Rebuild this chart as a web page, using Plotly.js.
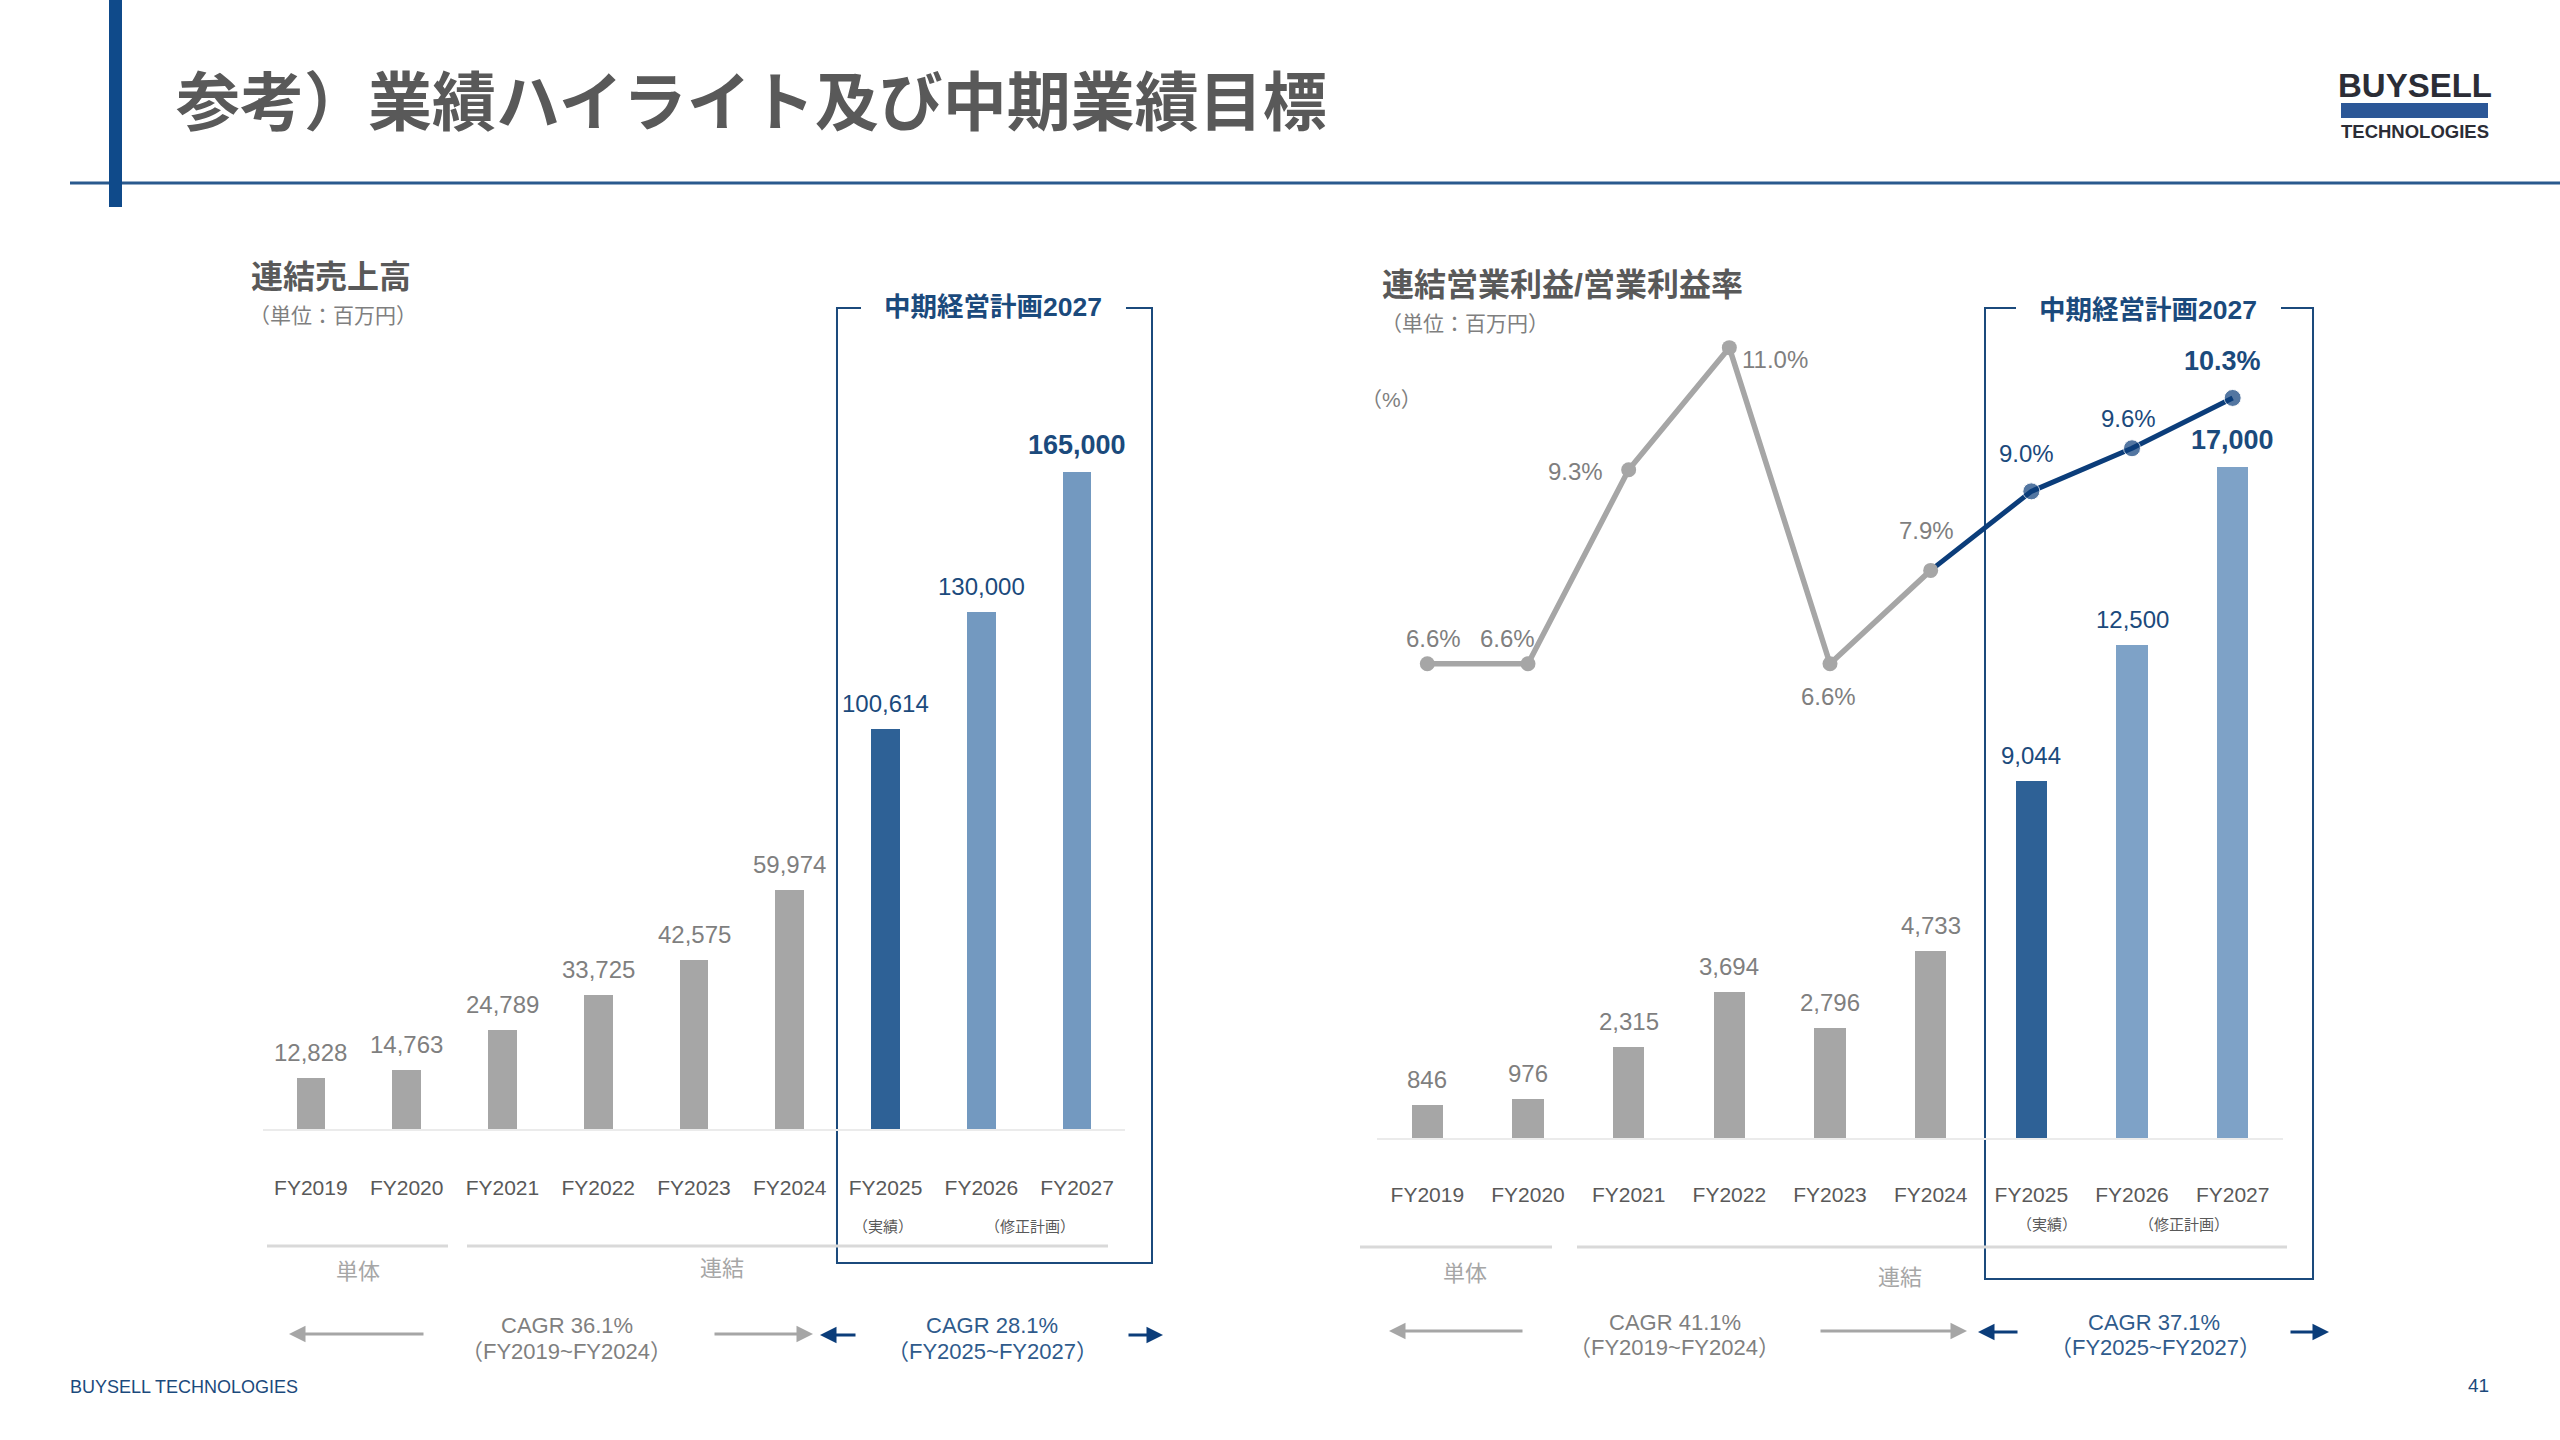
<!DOCTYPE html>
<html>
<head>
<meta charset="utf-8">
<script src="https://cdn.plot.ly/plotly-3.0.1.min.js"></script>
<style>
  html, body { margin: 0; padding: 0; background: #ffffff; }
  #chart { width: 2560px; height: 1440px; }
</style>
</head>
<body>
<div id="chart"></div>
<script>
// ---------------- DATA ----------------
const categories = ['FY2019', 'FY2020', 'FY2021', 'FY2022', 'FY2023', 'FY2024', 'FY2025', 'FY2026', 'FY2027'];
const salesValues = [12828, 14763, 24789, 33725, 42575, 59974, 100614, 130000, 165000];
const opIncomeValues = [846, 976, 2315, 3694, 2796, 4733, 9044, 12500, 17000];
const opMarginValues = [6.6, 6.6, 9.3, 11.0, 6.6, 7.9, 9.0, 9.6, 10.3];
const periodTypes = ['past', 'past', 'past', 'past', 'past', 'past', 'actual', 'plan', 'plan'];

const pageTitle = '参考）業績ハイライト及び中期業績目標';
const salesTitle = '連結売上高';
const opTitle = '連結営業利益/営業利益率';
const unitText = '（単位：百万円）';
const pctUnitText = '（%）';
const planBoxTitle = '中期経営計画2027';
const actualNote = '（実績）';
const planNote = '（修正計画）';
const standaloneLabel = '単体';
const consolidatedLabel = '連結';
const salesCagrPast = ['CAGR 36.1%', '（FY2019~FY2024）'];
const salesCagrPlan = ['CAGR 28.1%', '（FY2025~FY2027）'];
const opCagrPast = ['CAGR 41.1%', '（FY2019~FY2024）'];
const opCagrPlan = ['CAGR 37.1%', '（FY2025~FY2027）'];
const footerText = 'BUYSELL TECHNOLOGIES';
const pageNumber = '41';

// ---------------- STYLE ----------------
const W = 2560, H = 1440;
const P = x => x / W;
const Q = y => 1 - y / H;
const FONT = 'Liberation Sans, Arial, Noto Sans CJK JP, sans-serif';
const NAVY = '#1B4A7C';
const GRAY_BAR = '#A6A6A6';
const GRAY_TXT = '#7F7F7F';
const DARK_TXT = '#595959';
const last = categories.length - 1;

function barColor(t, light) {
  if (t === 'past') return GRAY_BAR;
  if (t === 'actual') return '#2E6196';
  return light;
}

const traces = [];
traces.push({
  type: 'bar', x: categories, y: salesValues, xaxis: 'x', yaxis: 'y',
  width: 0.30,
  marker: { color: periodTypes.map(t => barColor(t, '#7399C0')) },
  hoverinfo: 'skip'
});
traces.push({
  type: 'bar', x: categories, y: opIncomeValues, xaxis: 'x2', yaxis: 'y2',
  width: 0.31,
  marker: { color: periodTypes.map(t => barColor(t, '#7EA2C7')) },
  hoverinfo: 'skip'
});
// blue (plan) segment of the margin line, starting from FY2024
const pastIdx = periodTypes.map((t, i) => t === 'past' ? i : -1).filter(i => i >= 0);
const lastPast = pastIdx[pastIdx.length - 1];
traces.push({
  type: 'scatter', mode: 'lines+markers',
  x: categories.slice(lastPast), y: opMarginValues.slice(lastPast),
  xaxis: 'x2', yaxis: 'y3',
  line: { color: '#0B3D7A', width: 5 },
  marker: { color: '#0B3D7A', size: categories.slice(lastPast).map((c, i) => i === 0 ? 0 : 17) },
  cliponaxis: false, hoverinfo: 'skip'
});
traces.push({
  type: 'scatter', mode: 'lines+markers',
  x: categories.slice(0, lastPast + 1), y: opMarginValues.slice(0, lastPast + 1),
  xaxis: 'x2', yaxis: 'y3',
  line: { color: '#A6A6A6', width: 5.5 },
  marker: { color: '#A6A6A6', size: 15 },
  cliponaxis: false, hoverinfo: 'skip'
});

const annotations = [];
function txt(x, y, text, size, color, opts) {
  annotations.push(Object.assign({
    xref: 'paper', yref: 'paper', x: P(x), y: Q(y), text: text, showarrow: false,
    xanchor: 'center', yanchor: 'middle',
    font: { family: FONT, size: size, color: color }
  }, opts || {}));
}
function arrow(x0, x1, y, color) {
  annotations.push({
    xref: 'paper', yref: 'paper', x: P(x1), y: Q(y), ax: x0 - x1, ay: 0,
    axref: 'pixel', ayref: 'pixel', text: '', showarrow: true,
    arrowhead: 2, arrowsize: 1.1, arrowwidth: 3, arrowcolor: color, standoff: 0
  });
}

// bar value labels
function barLabels(values, xa, ya) {
  values.forEach((v, i) => {
    const t = periodTypes[i];
    const bold = (i === last);
    annotations.push({
      xref: xa, yref: ya, x: categories[i], y: v,
      text: bold ? '<b>' + v.toLocaleString('en-US') + '</b>' : v.toLocaleString('en-US'),
      showarrow: false, xanchor: 'center', yanchor: 'bottom', yshift: 10,
      font: { family: FONT, size: bold ? 27 : 24, color: t === 'past' ? GRAY_TXT : NAVY }
    });
  });
}
barLabels(salesValues, 'x', 'y');
barLabels(opIncomeValues, 'x2', 'y2');

// margin labels (placement per point)
const marginLabelPlacement = [
  [6, 25], [-21, 25], [-53, -2], [46, -12], [-2, -33], [-4, 40], [-5, 38], [-4, 30], [-10, 37]
];
opMarginValues.forEach((v, i) => {
  const t = periodTypes[i];
  const bold = (i === last);
  const s = v.toFixed(1) + '%';
  annotations.push({
    xref: 'x2', yref: 'y3', x: categories[i], y: v,
    text: bold ? '<b>' + s + '</b>' : s,
    showarrow: false, xanchor: 'center', yanchor: 'middle',
    xshift: marginLabelPlacement[i][0], yshift: marginLabelPlacement[i][1],
    font: { family: FONT, size: bold ? 27 : 24, color: t === 'past' ? GRAY_TXT : NAVY }
  });
});

// header
txt(174, 103, '<b>' + pageTitle + '</b>', 64, DARK_TXT, { xanchor: 'left' });
// logo
txt(2414.5, 85, '<b>BUYSELL</b>', 33, '#2B2D36');
txt(2414.5, 131, '<b>TECHNOLOGIES</b>', 18.5, '#2B2D36');

// chart titles
txt(249, 277, '<b>' + salesTitle + '</b>', 32, DARK_TXT, { xanchor: 'left' });
txt(247, 315, unitText, 21, GRAY_TXT, { xanchor: 'left' });
txt(1380, 285, '<b>' + opTitle + '</b>', 32, DARK_TXT, { xanchor: 'left' });
txt(1379, 323, unitText, 21, GRAY_TXT, { xanchor: 'left' });
txt(1391, 399, pctUnitText, 21, GRAY_TXT);

// plan box titles
txt(993, 307, '<b>' + planBoxTitle + '</b>', 26.5, NAVY);
txt(2148, 310, '<b>' + planBoxTitle + '</b>', 26.5, NAVY);

// notes under axis
txt(883, 1226, actualNote, 15, DARK_TXT);
txt(1030, 1226, planNote, 15, DARK_TXT);
txt(2047, 1224, actualNote, 15, DARK_TXT);
txt(2184, 1224, planNote, 15, DARK_TXT);

txt(358, 1271, standaloneLabel, 22, GRAY_BAR);
txt(722, 1268, consolidatedLabel, 22, GRAY_BAR);
txt(1465, 1273, standaloneLabel, 22, GRAY_BAR);
txt(1900, 1277, consolidatedLabel, 22, GRAY_BAR);

// CAGR
txt(567, 1325, salesCagrPast[0], 22, GRAY_TXT);
txt(566, 1351, salesCagrPast[1], 22, GRAY_TXT);
txt(992, 1325, salesCagrPlan[0], 22, '#2F5B8C');
txt(992, 1351, salesCagrPlan[1], 22, '#2F5B8C');
txt(1675, 1322, opCagrPast[0], 22, GRAY_TXT);
txt(1674, 1347, opCagrPast[1], 22, GRAY_TXT);
txt(2154, 1322, opCagrPlan[0], 22, '#2F5B8C');
txt(2155, 1347, opCagrPlan[1], 22, '#2F5B8C');

arrow(425, 289, 1334, GRAY_BAR);
arrow(713, 813, 1334, GRAY_BAR);
arrow(857, 820, 1335, '#0B3D7A');
arrow(1127, 1163, 1335, '#0B3D7A');
arrow(1524, 1389, 1331, GRAY_BAR);
arrow(1819, 1967, 1331, GRAY_BAR);
arrow(2019, 1978, 1332, '#0B3D7A');
arrow(2289, 2329, 1332, '#0B3D7A');

// footer
txt(68, 1387, footerText, 18, NAVY, { xanchor: 'left' });
txt(2478, 1385, pageNumber, 19, NAVY);

function pathOf(pts) {
  return pts.map((p, i) => (i ? 'L' : 'M') + P(p[0]).toFixed(5) + ',' + Q(p[1]).toFixed(5)).join(' ');
}

const shapes = [
  // header rule
  { type: 'line', xref: 'paper', yref: 'paper', x0: P(70), x1: P(2560), y0: Q(183), y1: Q(183),
    line: { color: '#2A5A8E', width: 3 } },
  // header vertical bar
  { type: 'rect', xref: 'paper', yref: 'paper', x0: P(109), x1: P(122), y0: Q(207), y1: Q(0),
    fillcolor: '#0F4A8A', line: { width: 0 } },
  // logo bar
  { type: 'rect', xref: 'paper', yref: 'paper', x0: P(2341), x1: P(2488), y0: Q(118), y1: Q(103),
    fillcolor: '#2B5797', line: { width: 0 } },
  // plan brackets
  { type: 'path', xref: 'paper', yref: 'paper', layer: 'below',
    path: pathOf([[861, 308], [837, 308], [837, 1263], [1152, 1263], [1152, 308], [1126, 308]]),
    line: { color: NAVY, width: 2 } },
  { type: 'path', xref: 'paper', yref: 'paper', layer: 'below',
    path: pathOf([[2016, 308], [1985, 308], [1985, 1279], [2313, 1279], [2313, 308], [2281, 308]]),
    line: { color: NAVY, width: 2 } },
  // group underlines
  { type: 'line', xref: 'paper', yref: 'paper', x0: P(267), x1: P(448), y0: Q(1246), y1: Q(1246),
    line: { color: '#D9D9D9', width: 3 } },
  { type: 'line', xref: 'paper', yref: 'paper', x0: P(467), x1: P(1108), y0: Q(1246), y1: Q(1246),
    line: { color: '#D9D9D9', width: 3 } },
  { type: 'line', xref: 'paper', yref: 'paper', x0: P(1360), x1: P(1552), y0: Q(1247), y1: Q(1247),
    line: { color: '#D9D9D9', width: 3 } },
  { type: 'line', xref: 'paper', yref: 'paper', x0: P(1577), x1: P(2287), y0: Q(1247), y1: Q(1247),
    line: { color: '#D9D9D9', width: 3 } }
];

const xBase = {
  type: 'category', range: [-0.5, 8.5], showgrid: false, zeroline: false,
  showline: true, linecolor: '#EBEBEB', linewidth: 2, layer: 'below traces',
  ticks: 'outside', tickcolor: 'rgba(0,0,0,0)',
  tickfont: { family: FONT, size: 21, color: DARK_TXT }, fixedrange: true
};

const layout = {
  width: W, height: H,
  margin: { l: 0, r: 0, t: 0, b: 0, pad: 0 },
  paper_bgcolor: '#ffffff', plot_bgcolor: 'rgba(0,0,0,0)',
  showlegend: false,
  font: { family: FONT },
  bargap: 0,
  xaxis: Object.assign({}, xBase, { domain: [P(263), P(1125)], anchor: 'y', ticklen: 39 }),
  yaxis: { domain: [Q(1129), Q(288)], range: [0, 841 / 0.00398], visible: false, fixedrange: true },
  xaxis2: Object.assign({}, xBase, { domain: [P(1377), P(2283)], anchor: 'y2', ticklen: 37 }),
  yaxis2: { domain: [Q(1138), Q(288)], range: [0, 850 / 0.03947], visible: false, fixedrange: true, anchor: 'x2' },
  yaxis3: { overlaying: 'y2', range: [0, 850 / 71.85], visible: false, fixedrange: true, anchor: 'x2' },
  annotations: annotations,
  shapes: shapes
};

Plotly.newPlot('chart', traces, layout, { staticPlot: true, displayModeBar: false });
</script>
</body>
</html>
